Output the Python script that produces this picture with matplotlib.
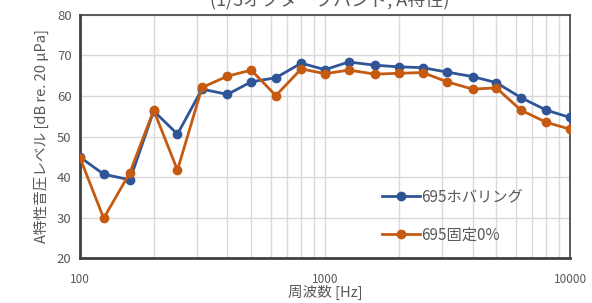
import numpy as np
import matplotlib
matplotlib.use("Agg")
import matplotlib.pyplot as plt
from matplotlib.ticker import LogLocator, NullFormatter, FixedLocator

plt.rcParams['font.family'] = ['Noto Sans CJK JP', 'DejaVu Sans']

# 1/3オクターブバンド中心周波数
freq = [100, 125, 160, 200, 250, 315, 400, 500, 630, 800, 1000, 1250,
        1600, 2000, 2500, 3150, 4000, 5000, 6300, 8000, 10000]
hover = [44.9, 40.7, 39.3, 56.3, 50.6, 61.7, 60.4, 63.5, 64.5, 68.1, 66.5,
         68.4, 67.6, 67.2, 67.0, 65.9, 64.8, 63.3, 59.6, 56.5, 54.7]
fixed = [44.8, 29.8, 41.1, 56.5, 41.7, 62.1, 64.9, 66.4, 60.1, 66.7, 65.5,
         66.4, 65.4, 65.6, 65.8, 63.5, 61.7, 62.0, 56.5, 53.5, 51.8]
labels = ["695ホバリング", "695固定0%"]
colors = ["#2f5597", "#c55a11"]

fig = plt.figure(figsize=(5.92, 3.03), dpi=100)
ax = fig.add_axes([0.135, 0.1485, 0.828, 0.802])

ax.plot(freq, hover, color=colors[0], marker='o', ms=6, lw=2, label=labels[0], zorder=3)
ax.plot(freq, fixed, color=colors[1], marker='o', ms=6, lw=2, label=labels[1], zorder=3)

ax.set_xscale('log')
ax.set_xlim(100, 10000)
ax.set_ylim(20, 80)
ax.set_yticks([20, 30, 40, 50, 60, 70, 80])
ax.xaxis.set_major_locator(FixedLocator([100, 1000, 10000]))
ax.xaxis.set_minor_locator(LogLocator(base=10, subs=np.arange(2, 10)))
ax.xaxis.set_minor_formatter(NullFormatter())
ax.set_xticklabels(["100", "1000", "10000"])

ax.grid(True, which='both', axis='x', color='#d9d9d9', lw=1)
ax.grid(True, which='major', axis='y', color='#d9d9d9', lw=1)
ax.tick_params(which='both', length=0, colors='#595959', labelsize=9.5)
ax.tick_params(axis='y', pad=6)
ax.tick_params(axis='x', pad=11, labelsize=8.5)

for s in ['left', 'bottom']:
    ax.spines[s].set_linewidth(2)
    ax.spines[s].set_color('#404040')
for s in ['top', 'right']:
    ax.spines[s].set_linewidth(1.2)
    ax.spines[s].set_color('#404040')

ax.set_ylabel("A特性音圧レベル [dB re. 20 μPa]", fontsize=10.5, color='#595959', labelpad=6)
ax.set_xlabel("周波数 [Hz]", fontsize=10.5, color='#595959', labelpad=-1)

fig.text(0.557, 0.998, "(1/3オクターブバンド, A特性)", ha='center', va='center',
         fontsize=13, color='#595959')

ax.legend(loc='lower left', bbox_to_anchor=(0.616, 0.06), frameon=False,
          borderpad=0, borderaxespad=0,
          fontsize=11, labelcolor='#595959', handlelength=2.5, labelspacing=1.4,
          handletextpad=0.1)

fig.savefig("out.png", dpi=100)
